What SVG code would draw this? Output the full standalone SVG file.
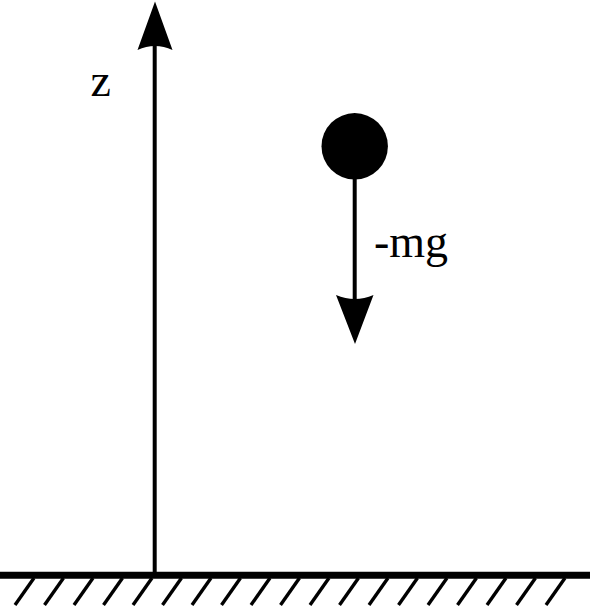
<svg xmlns="http://www.w3.org/2000/svg" width="590" height="607" viewBox="0 0 590 607">
<style>
.ln{stroke:#000;stroke-width:4;fill:none}
.hatch{stroke:#000;stroke-width:3.4;fill:none}
.lbl{font-family:"Liberation Serif","Times New Roman",serif;font-size:46px;fill:#000}
.head{fill:#000;stroke:none}
</style>
<rect width="590" height="607" fill="#fff"/>
<g id="ground">
<line x1="0" y1="575.3" x2="590" y2="575.3" stroke="#000" stroke-width="7"/>
<g class="hatch">
<line x1="34" y1="578" x2="15" y2="605"/>
<line x1="63.5" y1="578" x2="44.5" y2="605"/>
<line x1="93" y1="578" x2="74" y2="605"/>
<line x1="122.5" y1="578" x2="103.5" y2="605"/>
<line x1="152" y1="578" x2="133" y2="605"/>
<line x1="181.5" y1="578" x2="162.5" y2="605"/>
<line x1="211" y1="578" x2="192" y2="605"/>
<line x1="240.5" y1="578" x2="221.5" y2="605"/>
<line x1="270" y1="578" x2="251" y2="605"/>
<line x1="299.5" y1="578" x2="280.5" y2="605"/>
<line x1="329" y1="578" x2="310" y2="605"/>
<line x1="358.5" y1="578" x2="339.5" y2="605"/>
<line x1="388" y1="578" x2="369" y2="605"/>
<line x1="417.5" y1="578" x2="398.5" y2="605"/>
<line x1="447" y1="578" x2="428" y2="605"/>
<line x1="476.5" y1="578" x2="457.5" y2="605"/>
<line x1="506" y1="578" x2="487" y2="605"/>
<line x1="535.5" y1="578" x2="516.5" y2="605"/>
<line x1="565" y1="578" x2="546" y2="605"/>
</g>
</g>
<g id="connectors">
<g id="z-axis">
<line class="ln" x1="154.7" y1="573" x2="154.7" y2="45"/>
<path class="head" d="M155,1.5 L172.5,50 Q155,42 137.5,50 Z"/>
</g>
<g id="gravity-arrow">
<line class="ln" x1="354.7" y1="175" x2="354.7" y2="302"/>
<path class="head" d="M355,344 L373.5,295 Q355,303 336,295 Z"/>
</g>
</g>
<g id="ball">
<circle cx="354.7" cy="146.3" r="33.2" fill="#000"/>
</g>
<g id="label-z">
<text class="lbl" x="90.5" y="96">z</text>
</g>
<g id="label-mg">
<text class="lbl" x="374" y="257">-mg</text>
</g>
</svg>
